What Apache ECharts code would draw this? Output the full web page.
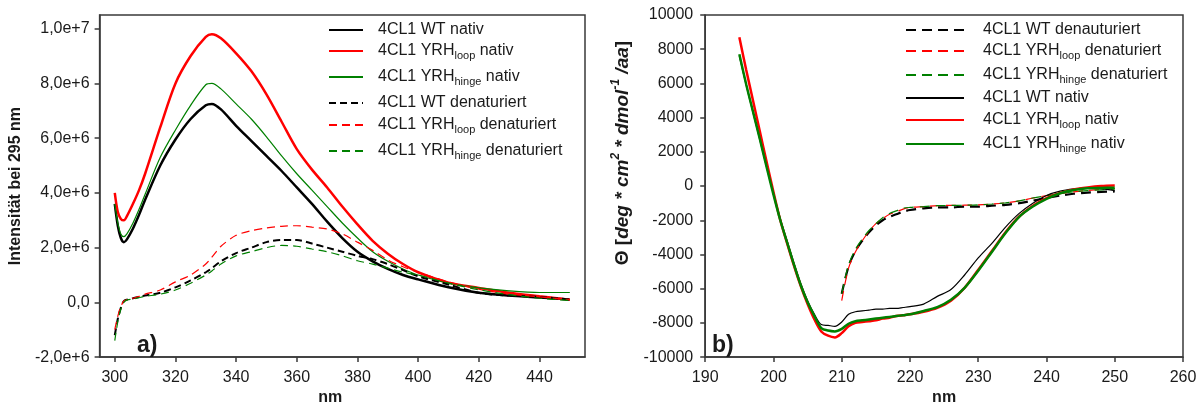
<!DOCTYPE html>
<html>
<head>
<meta charset="utf-8">
<title>Fluoreszenz und CD</title>
<script src="https://cdn.jsdelivr.net/npm/echarts@6/dist/echarts.min.js"></script>
<style>
  html, body { margin: 0; padding: 0; background: #fff; }
  .chart { position: absolute; top: 0; width: 602px; height: 411px; }
  #flChart { left: 0; }
  #cdChart { left: 602px; }
</style>
</head>
<body>
<div class="chart" id="flChart"></div>
<div class="chart" id="cdChart"></div>
<script>
// a) Fluoreszenz, Werte in 1e6
var flNm = [300, 301, 302, 303, 304, 306, 308, 310, 315, 320, 325, 330, 332, 335, 340, 345, 350, 355, 360, 365, 370, 375, 380, 385, 390, 395, 400, 410, 420, 430, 440, 450];
var flWtNativ = [3.6, 2.8, 2.35, 2.2, 2.3, 2.7, 3.2, 3.75, 5.0, 5.95, 6.7, 7.2, 7.25, 7.05, 6.45, 5.9, 5.35, 4.8, 4.2, 3.6, 2.95, 2.35, 1.85, 1.5, 1.22, 1.0, 0.84, 0.55, 0.35, 0.25, 0.18, 0.1];
var flLoopNativ = [4.0, 3.3, 3.05, 3.0, 3.15, 3.6, 4.1, 4.7, 6.4, 8.0, 9.0, 9.7, 9.8, 9.65, 9.1, 8.45, 7.6, 6.6, 5.6, 4.85, 4.2, 3.5, 2.85, 2.25, 1.78, 1.4, 1.1, 0.72, 0.53, 0.35, 0.22, 0.1];
var flHingeNativ = [3.6, 2.9, 2.5, 2.4, 2.5, 2.9, 3.4, 3.95, 5.3, 6.3, 7.2, 7.95, 8.0, 7.8, 7.25, 6.7, 6.05, 5.35, 4.7, 4.1, 3.5, 2.9, 2.35, 1.85, 1.5, 1.22, 1.0, 0.7, 0.53, 0.42, 0.36, 0.36];
var flWtDen = [-1.2, -0.6, -0.2, 0.05, 0.1, 0.15, 0.2, 0.25, 0.35, 0.55, 0.8, 1.1, 1.25, 1.5, 1.8, 2.0, 2.2, 2.28, 2.28, 2.15, 2.0, 1.85, 1.7, 1.58, 1.4, 1.18, 0.95, 0.65, 0.35, 0.25, 0.2, 0.1];
var flLoopDen = [-1.0, -0.5, -0.15, 0.05, 0.1, 0.15, 0.22, 0.3, 0.45, 0.75, 1.0, 1.4, 1.65, 2.05, 2.45, 2.62, 2.72, 2.78, 2.8, 2.75, 2.68, 2.5, 2.2, 1.9, 1.55, 1.3, 1.1, 0.75, 0.48, 0.3, 0.2, 0.1];
var flHingeDen = [-1.4, -0.7, -0.25, 0.0, 0.08, 0.12, 0.17, 0.22, 0.3, 0.45, 0.7, 1.0, 1.15, 1.4, 1.7, 1.85, 2.0, 2.08, 2.05, 1.95, 1.85, 1.7, 1.52, 1.4, 1.25, 1.1, 1.0, 0.7, 0.46, 0.28, 0.15, 0.07];
var flXTicks = [300, 320, 340, 360, 380, 400, 420, 440];
var flYTicks = [-2e6, 0, 2e6, 4e6, 6e6, 8e6, 1e7];

// b) CD-Spektren
var cdNm = [195, 196, 197, 198, 199, 200, 201, 202, 203, 204, 205, 206, 207, 208, 209, 210, 211, 212, 213, 214, 215, 216, 217, 218, 219, 220, 222, 224, 226, 228, 230, 232, 234, 236, 238, 240, 242, 244, 246, 248, 250];
var cdWtNativ = [7600, 5900, 4300, 2700, 1100, -450, -1900, -3200, -4500, -5700, -6700, -7500, -8100, -8150, -8200, -7950, -7500, -7350, -7300, -7250, -7200, -7200, -7150, -7150, -7100, -7050, -6900, -6450, -6050, -5200, -4200, -3350, -2400, -1600, -1000, -550, -300, -170, -100, -150, -270];
var cdLoopNativ = [8700, 6800, 5000, 3200, 1400, -350, -2000, -3350, -4650, -5850, -6900, -7800, -8500, -8750, -8850, -8600, -8200, -8000, -7950, -7900, -7850, -7750, -7700, -7600, -7550, -7500, -7350, -7120, -6700, -5950, -4900, -3800, -2700, -1780, -1150, -700, -400, -200, -80, 0, 30];
var cdHingeNativ = [7700, 5950, 4350, 2750, 1100, -500, -2000, -3300, -4600, -5800, -6800, -7600, -8300, -8450, -8500, -8350, -8050, -7900, -7850, -7800, -7750, -7700, -7650, -7600, -7550, -7500, -7300, -7080, -6650, -5950, -4950, -3850, -2750, -1800, -1200, -750, -420, -230, -130, -110, -100];
var cdNmDen = [210, 211, 212, 213, 214, 215, 216, 217, 218, 219, 220, 222, 224, 226, 228, 230, 232, 234, 236, 238, 240, 242, 244, 246, 248, 250];
var cdWtDen = [-6300, -4700, -3800, -3200, -2700, -2300, -2000, -1800, -1650, -1500, -1400, -1300, -1250, -1250, -1200, -1200, -1150, -1100, -1000, -850, -700, -560, -450, -380, -340, -320];
var cdLoopDen = [-6700, -4800, -3850, -3200, -2650, -2200, -1900, -1650, -1500, -1350, -1250, -1200, -1150, -1130, -1120, -1100, -1050, -980, -870, -700, -560, -440, -340, -260, -200, -150];
var cdHingeDen = [-6300, -4600, -3700, -3100, -2600, -2200, -1850, -1600, -1450, -1300, -1250, -1200, -1150, -1130, -1120, -1100, -1050, -980, -870, -700, -560, -440, -340, -270, -220, -180];

var FONT = '"Liberation Sans", Arial, sans-serif';
var AXIS_COLOR = '#3a3a3a';
var TEXT = '#1a1a1a';
var RED = '#ff0000';
var GREEN = '#008000';

// Legendentexte mit Tiefstellung
var richNames = {
  '4CL1 WT nativ': '4CL1 WT nativ',
  '4CL1 YRHloop nativ': '4CL1 YRH{sub|loop} nativ',
  '4CL1 YRHhinge nativ': '4CL1 YRH{sub|hinge} nativ',
  '4CL1 WT denaturiert': '4CL1 WT denaturiert',
  '4CL1 WT denauturiert': '4CL1 WT denauturiert',
  '4CL1 YRHloop denaturiert': '4CL1 YRH{sub|loop} denaturiert',
  '4CL1 YRHhinge denaturiert': '4CL1 YRH{sub|hinge} denaturiert'
};

var zip = function(xs, ys, k) {
  var out = [];
  for (var i = 0; i < xs.length; i++) out.push([xs[i], ys[i] * (k || 1)]);
  return out;
};

var line = function(name, data, color, width, dash) {
  return {
    name: name,
    type: 'line',
    data: data,
    showSymbol: false,
    symbol: 'none',
    smooth: 0.3,
    animation: false,
    lineStyle: { color: color, width: width, type: dash || 'solid' },
    itemStyle: { color: color }
  };
};

// eine Legende je Zeile, damit die Zeilen genau sitzen
var legends = function(names, left, rows, iconW, textGap) {
  var arr = [];
  for (var i = 0; i < names.length; i++) {
    arr.push({
      data: [names[i]],
      left: left,
      top: rows[i] - 10,
      padding: 0,
      itemWidth: iconW,
      itemHeight: 20,
      selectedMode: false,
      itemStyle: { opacity: 0, color: 'transparent', borderWidth: 0 },
      formatter: function(n) { return richNames[n]; },
      textStyle: {
        fontFamily: FONT, fontSize: 16, color: TEXT,
        padding: [0, 0, 0, textGap],
        rich: {
          sub: { fontFamily: FONT, fontSize: 11, color: TEXT, padding: [9, 0, 0, 0] }
        }
      }
    });
  }
  return arr;
};

var axisBase = function() {
  return {
    axisLine: { show: true, onZero: false, lineStyle: { color: AXIS_COLOR, width: 1.5 } },
    axisTick: { show: true, inside: false, length: 5, lineStyle: { color: AXIS_COLOR, width: 1.5 } },
    splitLine: { show: false },
    axisLabel: { fontFamily: FONT, fontSize: 16, color: TEXT }
  };
};

var fmtExp = function(v) {
  if (v === 0) return '0,0';
  return v.toExponential(1).replace('.', ',');
};

// --- a) ---
var flX = axisBase();
flX.type = 'value';
flX.min = 295; flX.max = 455;
flX.axisTick.customValues = flXTicks;
flX.axisLabel.customValues = flXTicks;
flX.axisLabel.margin = 12;
flX.name = 'nm';
flX.nameLocation = 'middle';
flX.nameGap = 30;
flX.nameTextStyle = { fontFamily: FONT, fontSize: 16, fontWeight: 'bold', color: TEXT, padding: [0, 24, 0, 0] };

var flY = axisBase();
flY.type = 'value';
flY.min = -2e6; flY.max = 1.05e7;
flY.axisTick.customValues = flYTicks;
flY.axisLabel.customValues = flYTicks;
flY.axisLabel.formatter = fmtExp;
flY.axisLabel.margin = 10;
flY.name = 'Intensität bei 295 nm';
flY.nameLocation = 'middle';
flY.nameGap = 72;
flY.nameTextStyle = { fontFamily: FONT, fontSize: 16, fontWeight: 'bold', color: TEXT };

var flChart = echarts.init(document.getElementById('flChart'));
flChart.setOption({
  animation: false,
  title: { text: 'a)', left: 137, top: 334, padding: 0, textStyle: { fontFamily: FONT, fontSize: 23, fontWeight: 'bold', color: TEXT } },
  grid: { left: 98, right: 17, top: 15, bottom: 48, show: true, borderColor: AXIS_COLOR, borderWidth: 1.5, backgroundColor: 'transparent' },
  legend: legends(['4CL1 WT nativ', '4CL1 YRHloop nativ', '4CL1 YRHhinge nativ', '4CL1 WT denaturiert', '4CL1 YRHloop denaturiert', '4CL1 YRHhinge denaturiert'],
    328, [32, 53, 79, 105, 127, 153], 34, 10),
  xAxis: flX,
  yAxis: flY,
  series: [
    line('4CL1 WT nativ', zip(flNm, flWtNativ, 1e6), '#000', 2.5),
    line('4CL1 YRHloop nativ', zip(flNm, flLoopNativ, 1e6), RED, 2.5),
    line('4CL1 YRHhinge nativ', zip(flNm, flHingeNativ, 1e6), GREEN, 1.2),
    line('4CL1 WT denaturiert', zip(flNm, flWtDen, 1e6), '#000', 2, [7, 4]),
    line('4CL1 YRHloop denaturiert', zip(flNm, flLoopDen, 1e6), RED, 1.2, [8, 5]),
    line('4CL1 YRHhinge denaturiert', zip(flNm, flHingeDen, 1e6), GREEN, 1.2, [8, 5])
  ]
});

// --- b) ---
var cdX = axisBase();
cdX.type = 'value';
cdX.min = 190; cdX.max = 260; cdX.interval = 10;
cdX.axisLabel.margin = 12;
cdX.name = 'nm';
cdX.nameLocation = 'middle';
cdX.nameGap = 30;
cdX.nameTextStyle = { fontFamily: FONT, fontSize: 16, fontWeight: 'bold', color: TEXT };

var cdY = axisBase();
cdY.type = 'value';
cdY.min = -10000; cdY.max = 10000; cdY.interval = 2000;
cdY.axisLabel.margin = 12;
cdY.axisLabel.formatter = function(v) { return String(v); };
cdY.name = '{n|Θ [}{i|deg * cm}{sup|2}{i| * dmol}{sup|-1}{i| /aa}{n|]}';
cdY.nameLocation = 'middle';
cdY.nameGap = 61;
cdY.nameTextStyle = {
  fontFamily: FONT, fontSize: 19, fontWeight: 'bold', color: TEXT,
  padding: [0, 0, 0, 66],
  rich: {
    n: { fontFamily: FONT, fontSize: 19, fontWeight: 'bold', color: TEXT, padding: [4, 0, 0, 0] },
    i: { fontFamily: FONT, fontSize: 19, fontWeight: 'bold', fontStyle: 'italic', color: TEXT, padding: [4, 0, 0, 0] },
    sup: { fontFamily: FONT, fontSize: 12, fontWeight: 'bold', fontStyle: 'italic', color: TEXT, padding: [0, 0, 10, 0] }
  }
};

var cdChart = echarts.init(document.getElementById('cdChart'));
cdChart.setOption({
  animation: false,
  title: { text: 'b)', left: 110, top: 334, padding: 0, textStyle: { fontFamily: FONT, fontSize: 23, fontWeight: 'bold', color: TEXT } },
  grid: { left: 93, right: 21, top: 15, bottom: 47, show: true, borderColor: AXIS_COLOR, borderWidth: 1.5, backgroundColor: 'transparent' },
  legend: legends(['4CL1 WT denauturiert', '4CL1 YRHloop denaturiert', '4CL1 YRHhinge denaturiert', '4CL1 WT nativ', '4CL1 YRHloop nativ', '4CL1 YRHhinge nativ'],
    303, [32, 53, 77, 100, 122, 146], 58, 14),
  xAxis: cdX,
  yAxis: cdY,
  series: [
    line('4CL1 WT denauturiert', zip(cdNmDen, cdWtDen), '#000', 2.2, [10, 6]),
    line('4CL1 YRHloop denaturiert', zip(cdNmDen, cdLoopDen), RED, 1.2, [10, 6]),
    line('4CL1 YRHhinge denaturiert', zip(cdNmDen, cdHingeDen), GREEN, 1.2, [10, 6]),
    line('4CL1 WT nativ', zip(cdNm, cdWtNativ), '#000', 1.2),
    line('4CL1 YRHloop nativ', zip(cdNm, cdLoopNativ), RED, 2.5),
    line('4CL1 YRHhinge nativ', zip(cdNm, cdHingeNativ), GREEN, 2.5)
  ]
});
</script>
</body>
</html>
